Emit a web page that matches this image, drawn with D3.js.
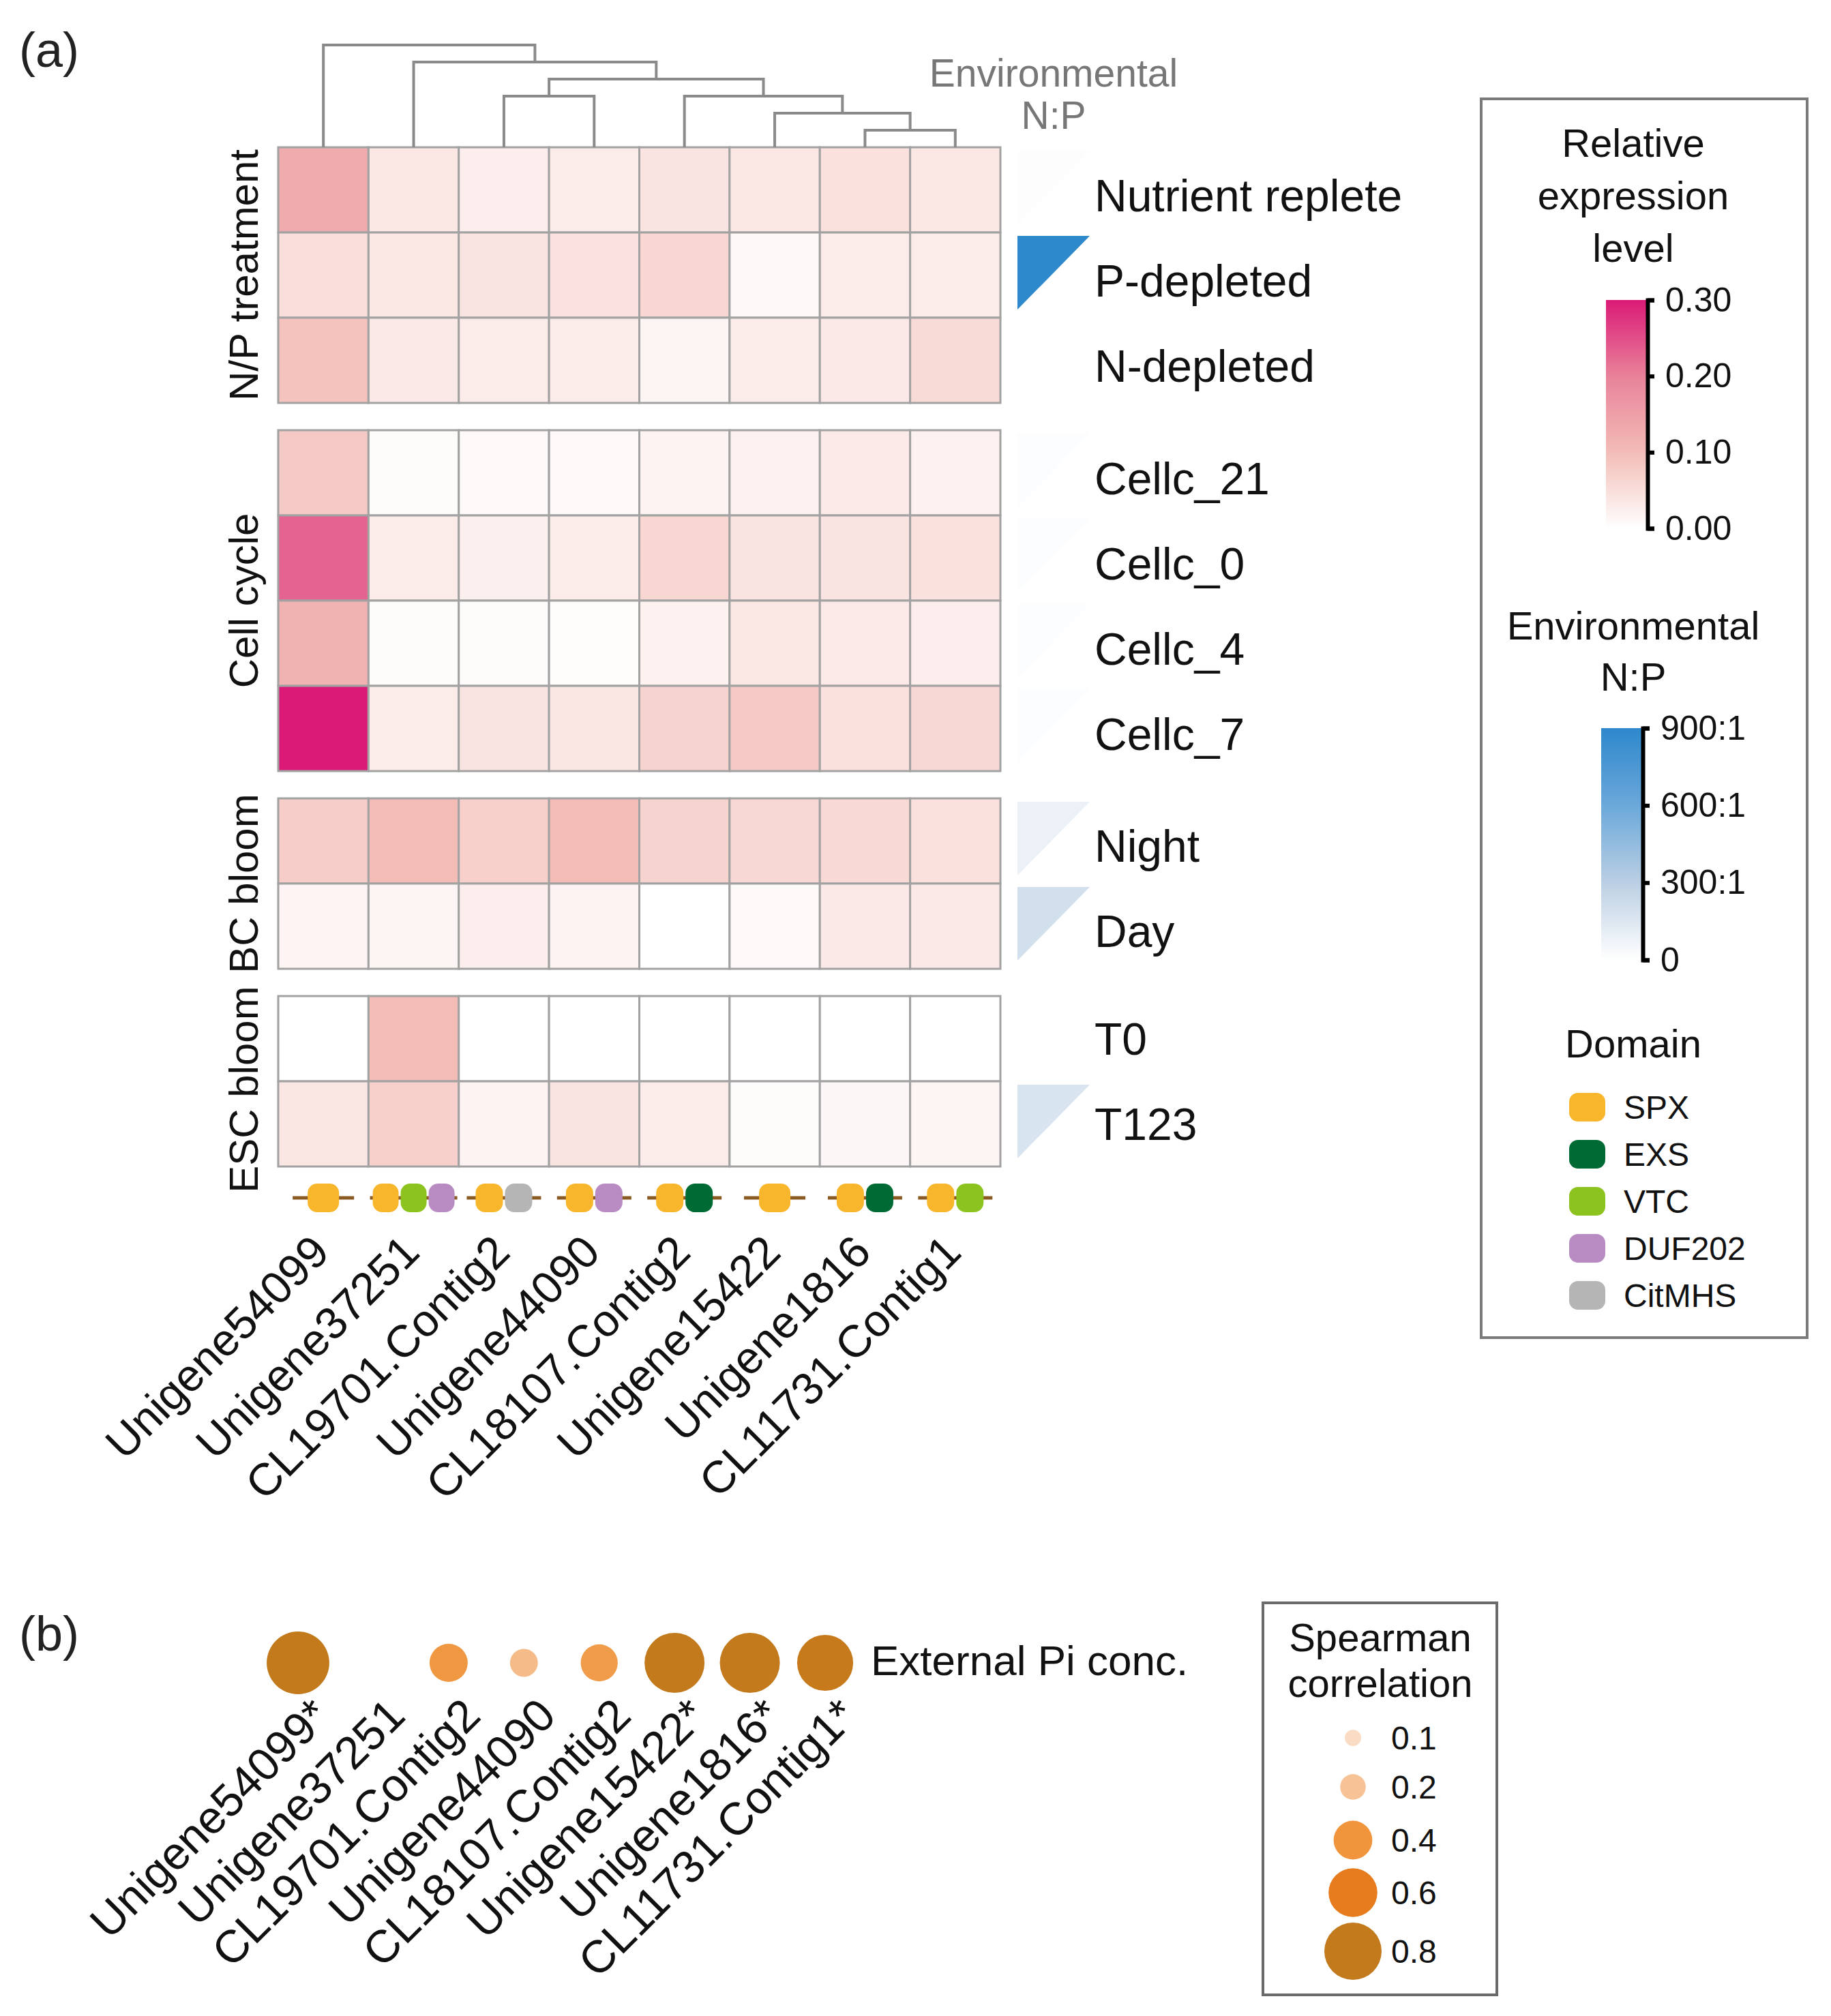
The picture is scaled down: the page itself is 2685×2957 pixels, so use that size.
<!DOCTYPE html>
<html>
<head>
<meta charset="utf-8">
<script src="https://cdn.jsdelivr.net/npm/d3@7"></script>
<style>
  body { margin: 0; background: #fff; }
  text { font-family: "Liberation Sans", Arial, Helvetica, sans-serif; }
</style>
</head>
<body>
<div id="chart"></div>
<script>
// ---- data ----
const genes = ["Unigene54099", "Unigene37251", "CL19701.Contig2", "Unigene44090",
  "CL18107.Contig2", "Unigene15422", "Unigene1816", "CL11731.Contig1"];

const groupNames = ["N/P treatment", "Cell cycle", "BC bloom", "ESC bloom"];
const groupSizes = [3, 4, 2, 2];
const rowLabels = ["Nutrient replete", "P-depleted", "N-depleted",
  "Cellc_21", "Cellc_0", "Cellc_4", "Cellc_7", "Night", "Day", "T0", "T123"];

// relative expression level, one row per condition, one column per gene
const exprValues = [
  [0.13, 0.035, 0.025, 0.03, 0.04, 0.035, 0.045, 0.035],
  [0.05, 0.035, 0.04, 0.043, 0.06, 0.01, 0.03, 0.03],
  [0.09, 0.033, 0.03, 0.03, 0.015, 0.03, 0.033, 0.055],
  [0.08, 0.005, 0.007, 0.008, 0.018, 0.02, 0.032, 0.02],
  [0.23, 0.03, 0.022, 0.03, 0.06, 0.04, 0.04, 0.045],
  [0.115, 0.005, 0.006, 0.004, 0.02, 0.035, 0.032, 0.025],
  [0.30, 0.03, 0.04, 0.038, 0.065, 0.08, 0.045, 0.058],
  [0.075, 0.10, 0.07, 0.10, 0.065, 0.058, 0.057, 0.045],
  [0.016, 0.015, 0.025, 0.018, 0.0, 0.008, 0.033, 0.033],
  [0, 0.10, 0, 0, 0, 0, 0, 0],
  [0.038, 0.07, 0.018, 0.04, 0.03, 0.006, 0.013, 0.015]
];

// environmental N:P per condition
const npRatio = [10, 900, 0, 12, 12, 15, 12, 90, 200, 0, 170];

// hclust-style merges (negative = leaf index+1, positive = earlier merge)
const mergeLeft = [-7, -6, -3, -5, 3, -2, -1];
const mergeRight = [-8, 1, -4, 2, 4, 5, 6];
const mergeHeight = [1, 2, 3, 3, 4, 5, 6];

const domainNames = ["SPX", "EXS", "VTC", "DUF202", "CitMHS"];
const domainColors = ["#f8b62c", "#006a35", "#8cc31e", "#b98bc3", "#b4b5b4"];
const geneDomains = [["SPX"], ["SPX", "VTC", "DUF202"], ["SPX", "CitMHS"], ["SPX", "DUF202"],
  ["SPX", "EXS"], ["SPX"], ["SPX", "EXS"], ["SPX", "VTC"]];

const exprStops = [0, 0.1, 0.2, 0.3];
const exprColors = ["#ffffff", "#f3bcb6", "#e8829a", "#db1a77"];
const exprTicks = [0, 0.1, 0.2, 0.3];
const npStops = [0, 300, 600, 900];
const npColors = ["#ffffff", "#bbcfe3", "#6ba8da", "#2e88cc"];
const npTicks = [0, 300, 600, 900];

// panel b
const spearman = [0.94, null, 0.39, 0.23, 0.37, 0.87, 0.87, 0.77];
const significant = [true, false, false, false, false, true, true, true];
const corrLegend = [0.1, 0.2, 0.4, 0.6, 0.8];
const corrColors = ["#fadcc4", "#f6c296", "#f0953c", "#e67c1e", "#c27a1c"];

// ---- layout ----
const W = 2685, H = 2957;
const svg = d3.select("#chart").append("svg")
  .attr("width", W).attr("height", H)
  .attr("viewBox", `0 0 ${W} ${H}`);

const heatLeft = 408, heatRight = 1467, heatTop = 216;
const rowH = 125, groupGap = 40;
const labelShift = [31, 31, 30, 23];
const groupLabelShift = [0, 0, 0, 12];

const x = d3.scaleBand().domain(genes).range([heatLeft, heatRight]);
const bw = x.bandwidth();
const exprColor = d3.scaleLinear().domain(exprStops).range(exprColors).clamp(true);
const npColor = d3.scaleLinear().domain(npStops).range(npColors).clamp(true);

const rowGroup = [];
groupSizes.forEach((n, g) => { for (let i = 0; i < n; i++) rowGroup.push(g); });
const rowTop = i => heatTop + i * rowH + rowGroup[i] * groupGap;

// panel label
svg.append("text").attr("x", 28).attr("y", 98)
  .attr("font-size", 72).attr("fill", "#222").text("(a)");

// heatmap cells
const cells = [];
exprValues.forEach((row, r) => row.forEach((v, c) => cells.push({ r, c, v })));
svg.append("g").selectAll("rect").data(cells).join("rect")
  .attr("x", d => x(genes[d.c]))
  .attr("y", d => rowTop(d.r))
  .attr("width", bw).attr("height", rowH)
  .attr("fill", d => exprColor(d.v))
  .attr("stroke", "#a2a2a2").attr("stroke-width", 3);

// group labels
let startRow = 0;
groupNames.forEach((name, g) => {
  const top = rowTop(startRow);
  const bottom = rowTop(startRow + groupSizes[g] - 1) + rowH;
  svg.append("text")
    .attr("transform", `translate(378,${(top + bottom) / 2 + groupLabelShift[g]}) rotate(-90)`)
    .attr("text-anchor", "middle").attr("font-size", 60).attr("fill", "#111")
    .text(name);
  startRow += groupSizes[g];
});

// N:P triangles and row labels
const triLeft = 1492, triRight = 1598;
svg.append("g").selectAll("path").data(npRatio).join("path")
  .attr("d", (d, i) => {
    const t = rowTop(i) + 5, b = rowTop(i) + 113;
    return `M${triLeft},${t}H${triRight}L${triLeft},${b}Z`;
  })
  .attr("fill", d => npColor(d));

svg.append("g").selectAll("text").data(rowLabels).join("text")
  .attr("x", 1605)
  .attr("y", (d, i) => rowTop(i) + rowH / 2 + labelShift[rowGroup[i]])
  .attr("font-size", 66).attr("fill", "#111")
  .text(d => d);

svg.append("text").attr("x", 1545).attr("y", 127).attr("text-anchor", "middle")
  .attr("font-size", 57).attr("fill", "#777").text("Environmental");
svg.append("text").attr("x", 1545).attr("y", 189).attr("text-anchor", "middle")
  .attr("font-size", 57).attr("fill", "#777").text("N:P");

// dendrogram
const hy = d3.scaleLinear().domain([0, 6]).range([heatTop, 66]);
const nodeX = [], nodeY = [];
const childPos = id => id < 0
  ? [x(genes[-id - 1]) + bw / 2, heatTop]
  : [nodeX[id - 1], nodeY[id - 1]];
const dendro = svg.append("g").attr("fill", "none")
  .attr("stroke", "#8a8a8a").attr("stroke-width", 4);
mergeLeft.forEach((l, k) => {
  const [xl, yl] = childPos(l);
  const [xr, yr] = childPos(mergeRight[k]);
  const yh = hy(mergeHeight[k]);
  nodeX.push((xl + xr) / 2);
  nodeY.push(yh);
  dendro.append("path").attr("d", `M${xl},${yl}V${yh}H${xr}V${yr}`);
});

// domain architecture glyphs
const domY = 1757, domH = 42;
const domColor = d3.scaleOrdinal().domain(domainNames).range(domainColors);
genes.forEach((gname, c) => {
  const doms = geneDomains[c];
  const n = doms.length;
  const w = n === 1 ? 46 : n === 2 ? 40 : 38;
  const ext = n === 1 ? 22 : n === 2 ? 13 : 4;
  const gap = 3;
  const total = n * w + (n - 1) * gap;
  const cx = x(gname) + bw / 2;
  const g = svg.append("g");
  g.append("line")
    .attr("x1", cx - total / 2 - ext).attr("x2", cx + total / 2 + ext)
    .attr("y1", domY).attr("y2", domY)
    .attr("stroke", "#8a5a22").attr("stroke-width", 5);
  g.selectAll("rect").data(doms).join("rect")
    .attr("x", (d, i) => cx - total / 2 + i * (w + gap))
    .attr("y", domY - domH / 2)
    .attr("width", w).attr("height", domH)
    .attr("rx", 14).attr("ry", 14)
    .attr("fill", d => domColor(d));
});

// column labels
svg.append("g").selectAll("text").data(genes).join("text")
  .attr("transform", d => `translate(${x(d) + bw / 2 + 12},1840) rotate(-45)`)
  .attr("text-anchor", "end").attr("font-size", 66).attr("fill", "#111")
  .text(d => d);

// ---- legend a ----
svg.append("rect").attr("x", 2172).attr("y", 145).attr("width", 478).attr("height", 1817)
  .attr("fill", "none").attr("stroke", "#7a7a7a").attr("stroke-width", 4);

const legCx = 2395;
["Relative", "expression", "level"].forEach((t, i) => {
  svg.append("text").attr("x", legCx).attr("y", 230 + i * 77)
    .attr("text-anchor", "middle").attr("font-size", 58).attr("fill", "#111").text(t);
});

const defs = svg.append("defs");
function colorBar(id, stops, colorFn, x0, yTop, yBot, ticks, fmt) {
  const grad = defs.append("linearGradient").attr("id", id)
    .attr("x1", 0).attr("x2", 0).attr("y1", 1).attr("y2", 0);
  const dom = d3.extent(stops);
  d3.range(0, 1.0001, 0.05).forEach(t => {
    grad.append("stop").attr("offset", t)
      .attr("stop-color", colorFn(dom[0] + t * (dom[1] - dom[0])));
  });
  svg.append("rect").attr("x", x0).attr("y", yTop)
    .attr("width", 60).attr("height", yBot - yTop)
    .attr("fill", `url(#${id})`);
  const s = d3.scaleLinear().domain(dom).range([yBot, yTop]);
  const ax = svg.append("g").attr("transform", `translate(${x0 + 61},0)`)
    .call(d3.axisRight(s).tickValues(ticks).tickFormat(fmt).tickSize(10).tickPadding(16));
  ax.select(".domain").attr("stroke", "#000").attr("stroke-width", 6);
  ax.selectAll(".tick line").attr("stroke", "#000").attr("stroke-width", 6);
  ax.selectAll(".tick text").attr("font-size", 50).attr("fill", "#111")
    .attr("font-family", "Liberation Sans, Arial, sans-serif");
}
colorBar("gradExpr", exprStops, exprColor, 2355, 440, 775, exprTicks, d3.format(".2f"));

["Environmental", "N:P"].forEach((t, i) => {
  svg.append("text").attr("x", legCx).attr("y", 938 + i * 75)
    .attr("text-anchor", "middle").attr("font-size", 58).attr("fill", "#111").text(t);
});
colorBar("gradNp", npStops, npColor, 2348, 1068, 1408, npTicks, d => d === 0 ? "0" : d + ":1");

svg.append("text").attr("x", legCx).attr("y", 1551)
  .attr("text-anchor", "middle").attr("font-size", 58).attr("fill", "#111").text("Domain");
const domLeg = svg.append("g").selectAll("g").data(domainNames).join("g")
  .attr("transform", (d, i) => `translate(2301,${1624 + i * 69})`);
domLeg.append("rect").attr("x", 0).attr("y", -21).attr("width", 53).attr("height", 42)
  .attr("rx", 13).attr("ry", 13).attr("fill", d => domColor(d));
domLeg.append("text").attr("x", 80).attr("y", 17)
  .attr("font-size", 48).attr("fill", "#111").text(d => d);

// ---- panel b ----
svg.append("text").attr("x", 28).attr("y", 2421)
  .attr("font-size", 72).attr("fill", "#222").text("(b)");

const xb = d3.scalePoint().domain(genes).range([437, 1210]);
const rScale = d3.scaleSqrt().domain([0.1, 0.8]).range([12, 42]);
const corrColor = d3.scaleLinear().domain(corrLegend).range(corrColors).clamp(true);
const circY = 2439;

svg.append("g").selectAll("circle")
  .data(genes.map((g, i) => ({ g, v: spearman[i] })).filter(d => d.v !== null))
  .join("circle")
  .attr("cx", d => xb(d.g)).attr("cy", circY)
  .attr("r", d => rScale(d.v))
  .attr("fill", d => corrColor(d.v));

svg.append("text").attr("x", 1277).attr("y", 2457)
  .attr("font-size", 62).attr("fill", "#111").text("External Pi conc.");

svg.append("g").selectAll("text").data(genes).join("text")
  .attr("transform", d => `translate(${xb(d) + 50},2520) rotate(-45)`)
  .attr("text-anchor", "end").attr("font-size", 67).attr("fill", "#111")
  .text((d, i) => d + (significant[i] ? "*" : ""));

// legend b
svg.append("rect").attr("x", 1852).attr("y", 2351).attr("width", 343).attr("height", 575)
  .attr("fill", "none").attr("stroke", "#6a6a6a").attr("stroke-width", 4);
svg.append("text").attr("x", 2024).attr("y", 2422).attr("text-anchor", "middle")
  .attr("font-size", 58).attr("fill", "#111").text("Spearman");
svg.append("text").attr("x", 2024).attr("y", 2489).attr("text-anchor", "middle")
  .attr("font-size", 58).attr("fill", "#111").text("correlation");

const legYs = d3.scaleOrdinal().domain(corrLegend).range([2549, 2621, 2699, 2776, 2862]);
const cl = svg.append("g").selectAll("g").data(corrLegend).join("g")
  .attr("transform", d => `translate(0,${legYs(d)})`);
cl.append("circle").attr("cx", 1984).attr("cy", 0)
  .attr("r", d => rScale(d)).attr("fill", d => corrColor(d));
cl.append("text").attr("x", 2040).attr("y", 17)
  .attr("font-size", 48).attr("fill", "#111").text(d => d);
</script>
</body>
</html>
